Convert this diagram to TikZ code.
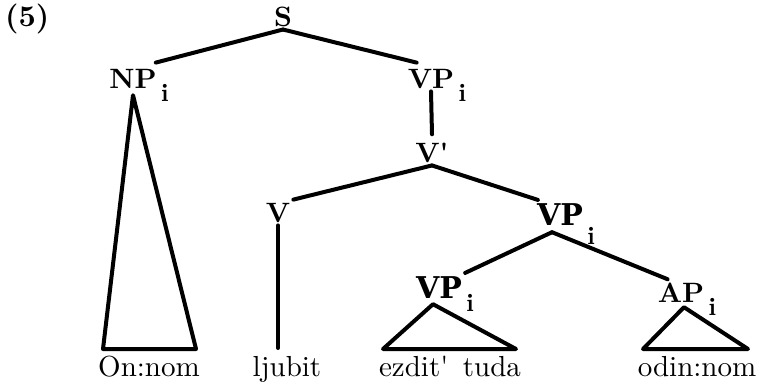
\documentclass[tikz,border=0pt]{standalone}
\usepackage{fontspec}
\usetikzlibrary{positioning}

% faces for the labels, the heavy VP labels and the words
\newfontfamily\catfont{lmroman10-bold.otf}
\newfontfamily\heavyfont{DejaVu Serif}
\newfontfamily\wordfont{lmroman10-regular.otf}
% dropped index
\newcommand\idx[1][13pt]{\rlap{\smash{\raisebox{-#1}{\fontsize{25}{25}\selectfont\catfont\,i}}}}

\begin{document}
\begin{tikzpicture}[
    x=1pt, y=-1pt,
    cat/.style={
        font=\fontsize{28}{32}\selectfont\catfont,
        inner sep=3pt,
        anchor=base
    },
    heavycat/.style={cat, font=\fontsize{30}{34}\selectfont\heavyfont\bfseries},
    word/.style={
        font=\fontsize{29}{34}\selectfont\wordfont,
        inner sep=2pt,
        anchor=base
    },
    branch/.style={line width=4pt, line cap=round, line join=round}
]
\useasboundingbox (0,0) rectangle (763,386);

% Example number
\node[font=\fontsize{30}{34}\selectfont\catfont, anchor=base west, inner sep=0pt]
    (num) at (5,26) {(5)};

% Categories
\node[cat] (s) at (283,26) {S};
\node[cat] (np) at (133,88) {NP\idx};
\node[cat] (vp) at (431,88) {VP\idx};
\node[cat] (vbar) at (432,162) {V'};
\node[cat] (v) at (278,222) {V};
\node[heavycat] (vpa) at (560,225) {VP\idx[19pt]};
\node[heavycat] (vpb) at (439,298) {VP\idx};
\node[cat] (ap) at (681,302) {AP\idx};

% Words
\node[word] (on) at (149,376) {On:nom};
\node[word] (lj) at (287,376) {ljubit};
\node[word] (ez) at (450,376) {ezdit'\hspace{0.5em}tuda};
\node[word] (od) at (697,376) {odin:nom};

% Ends of the leaves
\coordinate (np-l) at (103,349);
\coordinate (np-r) at (196,349);
\coordinate (v-e) at (278,348);
\coordinate (vpb-l) at (383,349);
\coordinate (vpb-r) at (516,349);
\coordinate (ap-l) at (643,349);
\coordinate (ap-r) at (748,349);
\coordinate (vpa-b) at ([xshift=-8pt,yshift=-4pt]vpa.south);

% Branches
\draw[branch] (s.south) -- ([xshift=-4pt,yshift=3pt]np.north east);
\draw[branch] (s.south) -- ([xshift=12pt,yshift=3pt]vp.north west);
\draw[branch] (vp.south) -- ([yshift=5pt]vbar.north);
\draw[branch] (vbar.south) -- (v.north east);
\draw[branch] (vbar.south) -- ([xshift=4pt]vpa.north west);
\draw[branch] (vpa-b) -- (vpb.north east);
\draw[branch] (vpa-b) -- ([xshift=13pt]ap.north west);

% Leaves
\draw[branch] ([yshift=-4pt]np.south) -- (np-l) -- (np-r) -- cycle;
\draw[branch] (v.south) -- (v-e);
\draw[branch] ([xshift=-6pt,yshift=-3pt]vpb.south) -- (vpb-l) -- (vpb-r) -- cycle;
\draw[branch] ([xshift=3pt,yshift=-2pt]ap.south) -- (ap-l) -- (ap-r) -- cycle;

\end{tikzpicture}
\end{document}
